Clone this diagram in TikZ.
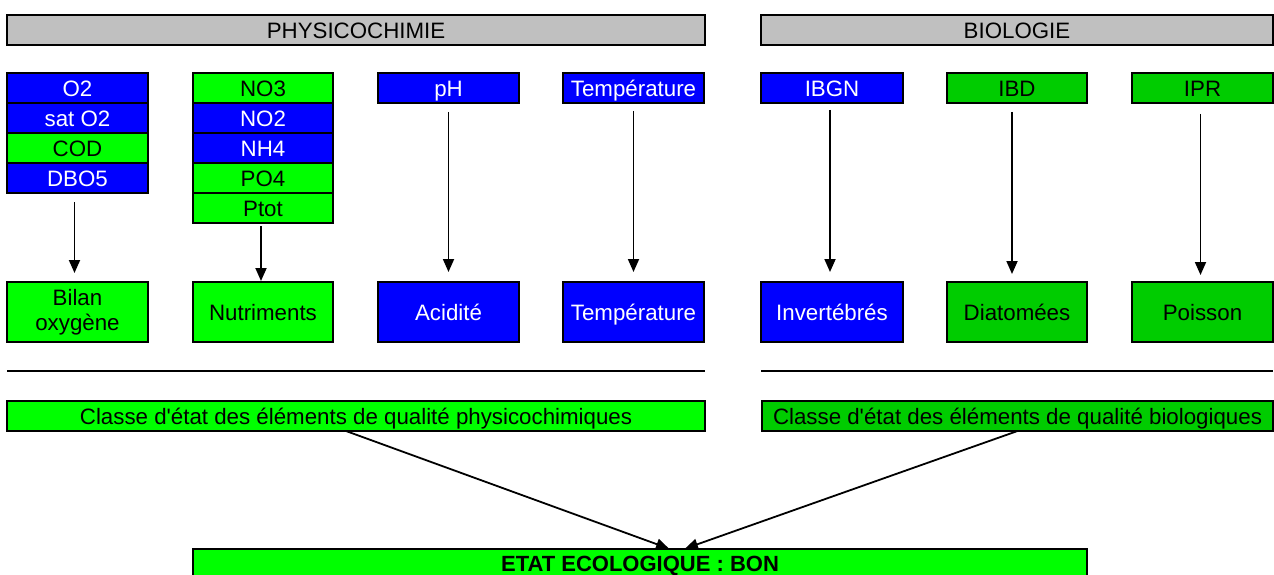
\documentclass[tikz,border=0pt]{standalone}
\usepackage{fontspec}
\setmainfont{Liberation Sans}
\usetikzlibrary{arrows.meta}
\definecolor{cblue}{HTML}{0000FF}
\definecolor{cgreen}{HTML}{00FF00}
\definecolor{cdgreen}{HTML}{00CC00}
\definecolor{cgray}{HTML}{C0C0C0}
\begin{document}
\begin{tikzpicture}[x=1pt,y=-1pt,
  boxbase/.style={draw=black, line width=2pt, inner sep=0pt, outer sep=0pt, anchor=north west, align=center, font=\fontsize{22.3}{25.5}\selectfont},
  box/.style={boxbase, text height=17.5pt, text depth=0pt},
  bl/.style={box, fill=cblue, text=white},
  gr/.style={box, fill=cgreen, text=black},
  dg/.style={box, fill=cdgreen, text=black},
  hd/.style={box, fill=cgray, text=black, minimum height=30pt},
  wd/.style={minimum width=#1pt},
  ra/.style={minimum height=30pt},
  rb/.style={minimum height=60pt},
  arr/.style={line width=1.8pt, -{Triangle[length=13pt,width=11pt]}},
  sep/.style={line width=2pt},
]
\useasboundingbox (0,0) rectangle (1274,575);

% headers
\node[hd, wd=698] (phys) at (7,15) {PHYSICOCHIMIE};
\node[hd, wd=512] (bio) at (761,15) {BIOLOGIE};

% oxygen stack
\node[bl, wd=141, ra] (o2) at (7,73) {O2};
\node[bl, wd=141, ra] (sato2) at (7,103) {sat O2};
\node[gr, wd=141, ra] (cod) at (7,133) {COD};
\node[bl, wd=141, ra] (dbo5) at (7,163) {DBO5};

% nutrient stack
\node[gr, wd=140, ra] (no3) at (193,73) {NO3};
\node[bl, wd=140, ra] (no2) at (193,103) {NO2};
\node[bl, wd=140, ra] (nh4) at (193,133) {NH4};
\node[gr, wd=140, ra] (po4) at (193,163) {PO4};
\node[gr, wd=140, ra] (ptot) at (193,193) {Ptot};

% single parameters
\node[bl, wd=141, ra] (ph) at (378,73) {pH};
\node[bl, wd=141, ra] (tempa) at (563,73) {Température};
\node[bl, wd=142, ra] (ibgn) at (761,73) {IBGN};
\node[dg, wd=140, ra] (ibd) at (947,73) {IBD};
\node[dg, wd=141, ra] (ipr) at (1132,73) {IPR};

% second row
\node[boxbase, fill=cgreen, wd=141, rb] (bilan) at (7,282) {Bilan\\oxygène};
\node[gr, wd=140, rb] (nutr) at (193,282) {Nutriments};
\node[bl, wd=141, rb] (acid) at (378,282) {Acidité};
\node[bl, wd=141, rb] (tempb) at (563,282) {Température};
\node[bl, wd=142, rb] (invert) at (761,282) {Invertébrés};
\node[dg, wd=140, rb] (diat) at (947,282) {Diatomées};
\node[dg, wd=141, rb] (poisson) at (1132,282) {Poisson};

% vertical arrows
\draw[arr, shorten <=9pt, shorten >=9pt] ([xshift=-3pt]dbo5.south) -- ([xshift=-3pt]bilan.north);
\draw[arr, shorten <=3pt, shorten >=1pt] ([xshift=-2pt]ptot.south) -- ([xshift=-2pt]nutr.north);
\draw[arr, shorten <=9pt, shorten >=10pt] (ph.south) -- (acid.north);
\draw[arr, shorten <=8pt, shorten >=10pt] (tempa.south) -- (tempb.north);
\draw[arr, shorten <=7pt, shorten >=10pt] ([xshift=-2pt]ibgn.south) -- ([xshift=-2pt]invert.north);
\draw[arr, shorten <=9pt, shorten >=8pt] ([xshift=-5pt]ibd.south) -- ([xshift=-5pt]diat.north);
\draw[arr, shorten <=11pt, shorten >=7pt] ([xshift=-2pt]ipr.south) -- ([xshift=-2pt]poisson.north);

% separators
\coordinate (sepla) at (7,371);
\coordinate (seplb) at (705,371);
\coordinate (sepra) at (761,371);
\coordinate (seprb) at (1273,371);
\draw[sep] (sepla) -- (seplb);
\draw[sep] (sepra) -- (seprb);

% class boxes
\node[gr, wd=698, ra] (classel) at (7,401) {Classe d\textquotesingle état des éléments de qualité physicochimiques};
\node[dg, wd=511, ra] (classer) at (762,401) {Classe d\textquotesingle état des éléments de qualité biologiques};

% final state
\node[gr, wd=894, minimum height=28pt, font=\fontsize{22}{25}\selectfont\bfseries] (etat) at (193,549) {ETAT ECOLOGIQUE : BON};

\draw[arr, shorten >=1pt] ([xshift=-10pt]classel.south) -- ([xshift=30pt]etat.north);
\draw[arr, shorten >=1pt] (classer.south) -- ([xshift=44pt]etat.north);
\end{tikzpicture}
\end{document}
